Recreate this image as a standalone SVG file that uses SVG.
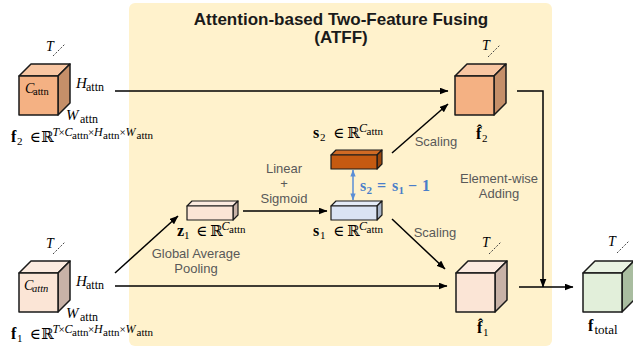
<svg xmlns="http://www.w3.org/2000/svg" width="633" height="350" viewBox="0 0 633 350">
  <defs>
    <marker id="arrow" viewBox="0 0 9 7" refX="8.5" refY="3.5" markerWidth="9" markerHeight="7" markerUnits="userSpaceOnUse" orient="auto">
      <path d="M0,0 L9,3.5 L0,7 Z" fill="#000"/>
    </marker>
    <marker id="arrow-blue" viewBox="0 0 8 6" refX="7.5" refY="3" markerWidth="7" markerHeight="6" markerUnits="userSpaceOnUse" orient="auto-start-reverse">
      <path d="M0,0 L8,3 L0,6 Z" fill="#5B8ED6"/>
    </marker>
  </defs>
  <style>
    .ln { stroke: #000; stroke-width: 1.5; fill: none; }
    .blue { stroke: #5B8ED6; stroke-width: 1.5; fill: none; }
    .edge { stroke: #1a1a1a; stroke-width: 1.5; stroke-linejoin: round; }
    .thin { stroke: #1a1a1a; stroke-width: 1.2; stroke-linejoin: round; }
    .tdash { stroke: #444; stroke-width: 1; stroke-dasharray: 2 1.5; }
    .lbl { font-family: "Liberation Sans", "Noto Sans", sans-serif; font-size: 13px; fill: #595959; text-anchor: middle; }
    .title { font-family: "Liberation Sans", "Noto Sans", sans-serif; font-size: 17px; font-weight: bold; fill: #1a1a1a; text-anchor: middle; }
    .m { font-family: "Liberation Serif", "DejaVu Serif", serif; fill: #000; }
    .b { font-weight: bold; }
    .i { font-style: italic; }
    .eq { font-family: "Liberation Serif", "DejaVu Serif", serif; font-weight: bold; font-size: 16px; fill: #4A7EC9; }
    .orange .front { fill: #F4B183; } .orange .top { fill: #F8C6A2; } .orange .side { fill: #C58F69; }
    .pink .front { fill: #FBE5D6; } .pink .top { fill: #FCEBE0; } .pink .side { fill: #C8B2A7; }
    .green .front { fill: #E2EFDA; } .green .top { fill: #E9F3E3; } .green .side { fill: #A9BDA0; }
    .lblue .front { fill: #DAE3F3; } .lblue .top { fill: #E4EBF7; } .lblue .side { fill: #A9B5C8; }
    .rust .front { fill: #C55A11; } .rust .top { fill: #D06A24; } .rust .side { fill: #9B470D; }
  </style>

  <!-- fusion module panel -->
  <rect x="129" y="3" width="423" height="343" rx="6" fill="#FFF2CC"/>
  <text class="title" x="341" y="25">Attention-based Two-Feature Fusing</text>
  <text class="title" x="341" y="43">(ATFF)</text>

  <!-- connectors -->
  <g id="connectors">
    <line class="ln" x1="115" y1="91" x2="448" y2="91" marker-end="url(#arrow)"/>
    <line class="ln" x1="115" y1="286" x2="447" y2="286" marker-end="url(#arrow)"/>
    <line class="ln" x1="115" y1="273" x2="178" y2="216" marker-end="url(#arrow)"/>
    <line class="ln" x1="243" y1="211" x2="327" y2="211" marker-end="url(#arrow)"/>
    <line class="ln" x1="392" y1="219" x2="445" y2="269" marker-end="url(#arrow)"/>
    <line class="ln" x1="392" y1="153" x2="448" y2="104" marker-end="url(#arrow)"/>
    <polyline class="ln" points="517,91 543,91 543,287" marker-end="url(#arrow)"/>
    <line class="ln" x1="519" y1="287" x2="573" y2="287" marker-end="url(#arrow)"/>
    <line class="blue" x1="353" y1="170" x2="353" y2="200" marker-start="url(#arrow-blue)" marker-end="url(#arrow-blue)"/>
  </g>

  <!-- connector labels -->
  <g id="edge-labels">
    <text class="lbl" x="284" y="173">Linear</text>
    <text class="lbl" x="284" y="188">+</text>
    <text class="lbl" x="284" y="203">Sigmoid</text>
    <text class="lbl" x="196" y="258">Global Average</text>
    <text class="lbl" x="196" y="273">Pooling</text>
    <text class="lbl" x="436" y="146">Scaling</text>
    <text class="lbl" x="435" y="237">Scaling</text>
    <text class="lbl" x="499" y="183">Element-wise</text>
    <text class="lbl" x="499" y="198">Adding</text>
    <text class="eq"><tspan x="360" y="191">s</tspan><tspan x="366.5" y="194" font-size="11">2</tspan><tspan x="377" y="191">=</tspan><tspan x="392" y="191">s</tspan><tspan x="398.5" y="194" font-size="11">1</tspan><tspan x="408" y="191">−</tspan><tspan x="422" y="191">1</tspan></text>
  </g>

  <!-- input feature f2 -->
  <g id="node-f2" class="orange">
    <path class="edge top" d="M19,76 L31,64 L70,64 L58,76 Z"/>
    <path class="edge side" d="M58,76 L70,64 L70,103 L58,115 Z"/>
    <rect class="edge front" x="19" y="76" width="39" height="39"/>
    <text class="m"><tspan class="i" x="25" y="93" font-size="14">C</tspan><tspan x="33" y="95" font-size="10.5">attn</tspan></text>
    <line class="tdash" x1="53" y1="56" x2="65" y2="44"/>
    <text class="m i" x="46" y="51" font-size="14">T</text>
    <text class="m"><tspan class="i" x="76" y="88" font-size="15">H</tspan><tspan x="86" y="91" font-size="12">attn</tspan></text>
    <text class="m"><tspan class="i" x="66" y="120" font-size="15">W</tspan><tspan x="80" y="123" font-size="12">attn</tspan></text>
    <text class="m"><tspan class="b" x="11" y="142" font-size="16">f</tspan><tspan x="17" y="145" font-size="11">2</tspan><tspan x="29.5" y="142" font-size="15">∈</tspan><tspan x="41" y="142" font-size="15">ℝ</tspan><tspan class="i" x="52.5" y="136" font-size="12">T</tspan><tspan x="58.5" y="136" font-size="11">×</tspan><tspan class="i" x="64.5" y="136" font-size="12">C</tspan><tspan x="72" y="138.5" font-size="11">attn</tspan><tspan x="88" y="136" font-size="11">×</tspan><tspan class="i" x="94" y="136" font-size="12">H</tspan><tspan x="103" y="138.5" font-size="11">attn</tspan><tspan x="119.5" y="136" font-size="11">×</tspan><tspan class="i" x="125.5" y="136" font-size="12">W</tspan><tspan x="136.5" y="138.5" font-size="11">attn</tspan></text>
  </g>

  <!-- input feature f1 -->
  <g id="node-f1" class="pink">
    <path class="edge top" d="M19,273 L31,261 L70,261 L58,273 Z"/>
    <path class="edge side" d="M58,273 L70,261 L70,300 L58,312 Z"/>
    <rect class="edge front" x="19" y="273" width="39" height="39"/>
    <text class="m i"><tspan x="24" y="290" font-size="14">C</tspan><tspan x="32" y="292" font-size="10.5">attn</tspan></text>
    <line class="tdash" x1="53" y1="254" x2="65" y2="242"/>
    <text class="m i" x="46" y="248" font-size="14">T</text>
    <text class="m"><tspan class="i" x="76" y="286" font-size="15">H</tspan><tspan x="86" y="289" font-size="12">attn</tspan></text>
    <text class="m"><tspan class="i" x="66" y="318" font-size="15">W</tspan><tspan x="80" y="321" font-size="12">attn</tspan></text>
    <text class="m"><tspan class="b" x="11" y="339" font-size="16">f</tspan><tspan x="17" y="342" font-size="11">1</tspan><tspan x="29.5" y="339" font-size="15">∈</tspan><tspan x="41" y="339" font-size="15">ℝ</tspan><tspan class="i" x="52.5" y="333" font-size="12">T</tspan><tspan x="58.5" y="333" font-size="11">×</tspan><tspan class="i" x="64.5" y="333" font-size="12">C</tspan><tspan x="72" y="335.5" font-size="11">attn</tspan><tspan x="88" y="333" font-size="11">×</tspan><tspan class="i" x="94" y="333" font-size="12">H</tspan><tspan x="103" y="335.5" font-size="11">attn</tspan><tspan x="119.5" y="333" font-size="11">×</tspan><tspan class="i" x="125.5" y="333" font-size="12">W</tspan><tspan x="136.5" y="335.5" font-size="11">attn</tspan></text>
  </g>

  <!-- pooled vector z1 -->
  <g id="node-z1" class="pink">
    <path class="thin top" d="M187,206 L192,201 L238,201 L233,206 Z"/>
    <path class="thin side" d="M233,206 L238,201 L238,215 L233,220 Z"/>
    <rect class="thin front" x="187" y="206" width="46" height="14"/>
    <text class="m"><tspan class="b" x="177" y="236" font-size="16">z</tspan><tspan x="184" y="239" font-size="11">1</tspan><tspan x="196" y="236" font-size="15">∈</tspan><tspan x="210" y="236" font-size="15">ℝ</tspan><tspan class="i" x="221.5" y="230" font-size="12">C</tspan><tspan x="229" y="232.5" font-size="11">attn</tspan></text>
  </g>

  <!-- attention weights s1 -->
  <g id="node-s1" class="lblue">
    <path class="thin top" d="M331,206 L336,201 L382,201 L377,206 Z"/>
    <path class="thin side" d="M377,206 L382,201 L382,215 L377,220 Z"/>
    <rect class="thin front" x="331" y="206" width="46" height="14"/>
    <text class="m"><tspan class="b" x="313" y="236" font-size="16">s</tspan><tspan x="320" y="239" font-size="11">1</tspan><tspan x="333" y="236" font-size="15">∈</tspan><tspan x="347" y="236" font-size="15">ℝ</tspan><tspan class="i" x="359" y="230" font-size="12">C</tspan><tspan x="366.5" y="232.5" font-size="11">attn</tspan></text>
  </g>

  <!-- attention weights s2 -->
  <g id="node-s2" class="rust">
    <path class="thin top" d="M331,155 L336,150 L382,150 L377,155 Z"/>
    <path class="thin side" d="M377,155 L382,150 L382,164 L377,169 Z"/>
    <rect class="thin front" x="331" y="155" width="46" height="14"/>
    <text class="m"><tspan class="b" x="313" y="138" font-size="16">s</tspan><tspan x="320" y="141" font-size="11">2</tspan><tspan x="333" y="138" font-size="15">∈</tspan><tspan x="347" y="138" font-size="15">ℝ</tspan><tspan class="i" x="359" y="132" font-size="12">C</tspan><tspan x="366.5" y="134.5" font-size="11">attn</tspan></text>
  </g>

  <!-- scaled feature f2 hat -->
  <g id="node-f2hat" class="orange">
    <path class="edge top" d="M455,76 L467,64 L506,64 L494,76 Z"/>
    <path class="edge side" d="M494,76 L506,64 L506,103 L494,115 Z"/>
    <rect class="edge front" x="455" y="76" width="39" height="39"/>
    <line class="tdash" x1="488" y1="57" x2="500" y2="45"/>
    <text class="m i" x="482" y="50" font-size="14">T</text>
    <text class="m"><tspan class="b" x="476" y="139" font-size="16">f̂</tspan><tspan x="482" y="142" font-size="11">2</tspan></text>
  </g>

  <!-- scaled feature f1 hat -->
  <g id="node-f1hat" class="pink">
    <path class="edge top" d="M456,273 L468,261 L507,261 L495,273 Z"/>
    <path class="edge side" d="M495,273 L507,261 L507,300 L495,312 Z"/>
    <rect class="edge front" x="456" y="273" width="39" height="39"/>
    <line class="tdash" x1="489" y1="254" x2="501" y2="242"/>
    <text class="m i" x="482" y="247" font-size="14">T</text>
    <text class="m"><tspan class="b" x="477" y="333" font-size="16">f̂</tspan><tspan x="483" y="336" font-size="11">1</tspan></text>
  </g>

  <!-- fused output f_total -->
  <g id="node-ftotal" class="green">
    <path class="edge top" d="M583,273 L595,261 L634,261 L622,273 Z"/>
    <path class="edge side" d="M622,273 L634,261 L634,300 L622,312 Z"/>
    <rect class="edge front" x="583" y="273" width="39" height="39"/>
    <line class="tdash" x1="617" y1="253" x2="629" y2="241"/>
    <text class="m i" x="608" y="246" font-size="14">T</text>
    <text class="m"><tspan class="b" x="588" y="331" font-size="16">f</tspan><tspan x="594.5" y="334" font-size="13">total</tspan></text>
  </g>
</svg>
